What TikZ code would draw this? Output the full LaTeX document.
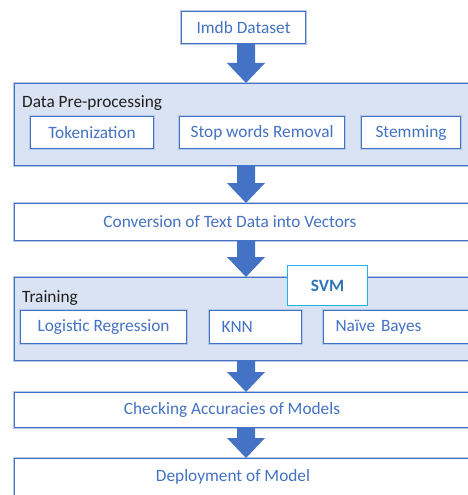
\documentclass[tikz,border=0pt]{standalone}
\usepackage{fontspec}
\setmainfont{Carlito}
\usetikzlibrary{calc}
\definecolor{bblue}{HTML}{4472C4}
\definecolor{glow}{HTML}{B4C7E7}
\definecolor{panel}{HTML}{DAE3F3}
\definecolor{cyanb}{HTML}{1CB5E8}
\definecolor{svmtext}{HTML}{2E75B6}
\definecolor{labelc}{HTML}{1F1F1F}
\newcommand\diagfont{\fontsize{17.3}{20}\selectfont}
\tikzset{
  box/.style={rectangle, draw=bblue, line width=1.1pt,
    preaction={draw=glow, line width=3.6pt},
    fill=white, inner sep=0pt, text=bblue, font=\diagfont, anchor=north west},
  panelbox/.style={box, fill=panel},
  leftbox/.style={box, inner xsep=12pt, align=left},
  plaintext/.style={inner sep=0pt, text=bblue, font=\diagfont},
  paneltitle/.style={inner sep=0pt, text=labelc, font=\diagfont, anchor=base west},
  svmbox/.style={rectangle, draw=cyanb, line width=1.2pt, fill=white,
    text=svmtext, font=\diagfont\bfseries, anchor=north west, inner sep=0pt},
}
\newcommand\bigarrow[2]{%
  \fill[bblue] let \p1=(#1.south), \p2=(#2.north) in
    (237pt,\y1) -- (255pt,\y1) -- (255pt,{\y2+20pt}) -- (265pt,{\y2+20pt})
    -- (246pt,\y2) -- (227pt,{\y2+20pt}) -- (237pt,{\y2+20pt}) -- cycle;}
\begin{document}
\begin{tikzpicture}[x=1pt,y=-1pt]
\useasboundingbox[fill=white] (0,0) rectangle (467,495);

\node[box, minimum width=124pt, minimum height=32pt] (imdb) at (181,11) {Imdb Dataset};

\node[panelbox, minimum width=500pt, minimum height=82pt] (prep) at (14,83) {};
\node[paneltitle] (preplabel) at (22,107) {Data Pre-processing};
\node[box, minimum width=123pt, minimum height=32pt] (tok) at (30,116) {Tokenization};
\node[box, minimum width=165pt, minimum height=32pt] (stop) at (179,116) {Stop words Removal};
\node[box, minimum width=99pt, minimum height=32pt] (stem) at (361,116) {Stemming};

\node[box, minimum width=500pt, minimum height=37pt] (conv) at (14,203) {};
\node[plaintext] (convtext) at (230,221.5) {Conversion of Text Data into Vectors};

\node[panelbox, minimum width=500pt, minimum height=83pt] (train) at (14,277) {};
\node[paneltitle] (trainlabel) at (22,302) {Training};
\node[box, minimum width=166pt, minimum height=33pt] (lr) at (20,310) {Logistic Regression};
\node[leftbox, text width=68pt, minimum height=33pt] (knn) at (209,310) {KNN};
\node[leftbox, text width=170pt, minimum height=33pt] (nb) at (323,310) {Naïve Bayes};
\node[svmbox, minimum width=80pt, minimum height=40pt] (svm) at (287,265) {SVM};

\node[box, minimum width=500pt, minimum height=35pt] (check) at (14,392) {};
\node[plaintext] (checktext) at (232,409.5) {Checking Accuracies of Models};

\node[box, minimum width=500pt, minimum height=45pt] (deploy) at (14,458) {};
\node[plaintext] (deploytext) at (233,477) {Deployment of Model};

\bigarrow{imdb}{prep}
\bigarrow{prep}{conv}
\bigarrow{conv}{train}
\bigarrow{train}{check}
\bigarrow{check}{deploy}
\end{tikzpicture}
\end{document}
